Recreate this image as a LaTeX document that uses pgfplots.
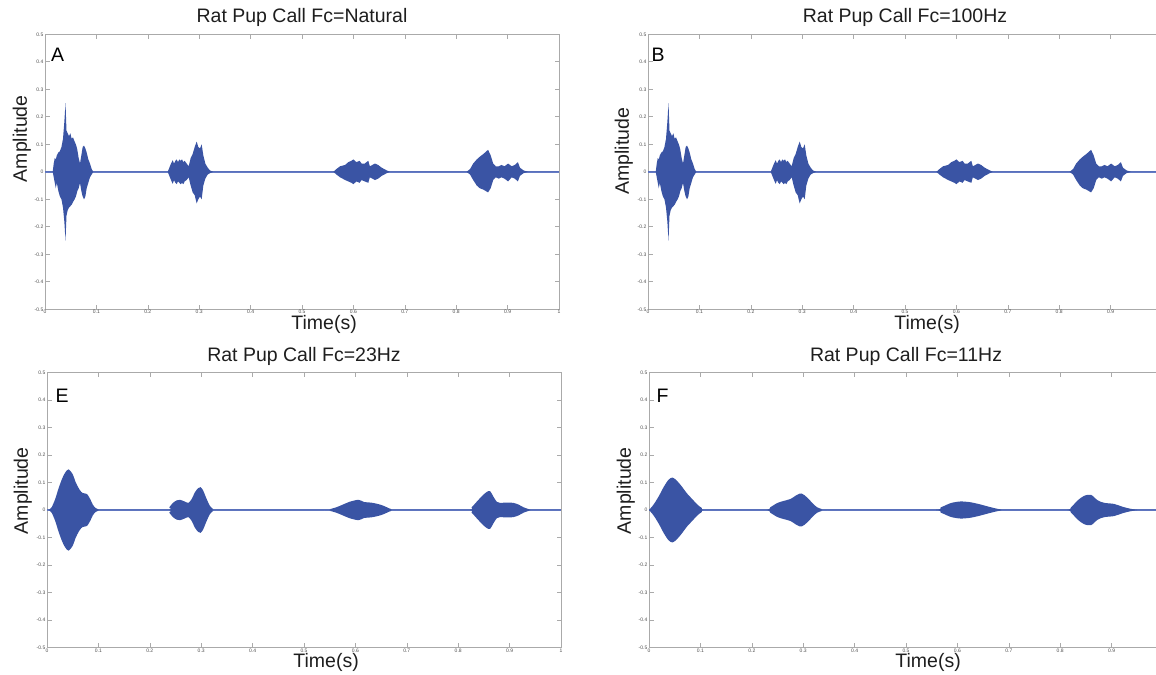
\documentclass[border=0pt]{standalone}
\usepackage{fontspec}
\setmainfont{Liberation Sans}
\usepackage{pgfplots}
\pgfplotsset{compat=1.18}
\usepackage{pgfplotstable}
\definecolor{wave}{RGB}{58,84,164}
\definecolor{wline}{RGB}{100,122,196}
\definecolor{frame}{RGB}{170,170,170}
\definecolor{txt}{RGB}{30,30,30}
\newcommand\bigf{\fontsize{19.5bp}{22bp}\selectfont}

% Natural / 100 Hz envelope (upper u, lower l)
\pgfplotstableread{
t u l
0 0 0
0.015 0 0
0.017 0.03 -0.02
0.019 0.05 -0.04
0.021 0.045 -0.06
0.023 0.06 -0.04
0.026 0.07 -0.07
0.029 0.075 -0.09
0.032 0.09 -0.10
0.035 0.12 -0.13
0.0376 0.18 -0.18
0.0399 0.25 -0.25
0.0418 0.15 -0.16
0.0441 0.14 -0.14
0.0467 0.13 -0.13
0.0493 0.14 -0.125
0.0519 0.12 -0.12
0.0545 0.125 -0.11
0.0577 0.11 -0.10
0.0600 0.10 -0.09
0.0616 0.09 -0.08
0.0629 0.08 -0.07
0.0655 0.05 -0.06
0.0681 0.03 -0.04
0.0707 0.06 -0.07
0.0733 0.09 -0.09
0.0759 0.095 -0.10
0.0785 0.085 -0.09
0.0811 0.07 -0.06
0.0843 0.045 -0.04
0.0875 0.03 -0.02
0.0908 0.01 -0.01
0.0940 0 0
0.2387 0 0
0.2419 0.015 -0.015
0.2451 0.03 -0.03
0.2484 0.042 -0.044
0.2510 0.03 -0.03
0.2536 0.04 -0.04
0.2562 0.045 -0.045
0.2588 0.035 -0.035
0.2613 0.045 -0.04
0.2639 0.04 -0.045
0.2665 0.045 -0.04
0.2691 0.035 -0.045
0.2717 0.04 -0.035
0.2756 0.03 -0.03
0.2795 0.02 -0.02
0.2834 0.05 -0.05
0.2873 0.065 -0.075
0.2912 0.09 -0.085
0.2951 0.11 -0.115
0.2983 0.09 -0.10
0.3016 0.085 -0.09
0.3048 0.10 -0.10
0.3080 0.06 -0.05
0.3119 0.03 -0.025
0.3165 0.015 -0.01
0.3210 0.005 -0.005
0.3275 0 0
0.561 0 0
0.567 0.01 -0.01
0.574 0.02 -0.02
0.584 0.025 -0.03
0.590 0.035 -0.035
0.596 0.04 -0.04
0.600 0.045 -0.045
0.606 0.035 -0.035
0.612 0.04 -0.04
0.616 0.03 -0.03
0.622 0.03 -0.035
0.629 0.04 -0.04
0.632 0.02 -0.02
0.637 0.025 -0.025
0.642 0.03 -0.03
0.648 0.025 -0.025
0.655 0.015 -0.015
0.665 0.005 -0.005
0.671 0 0
0.820 0 0
0.827 0.01 -0.01
0.833 0.03 -0.03
0.840 0.045 -0.05
0.846 0.055 -0.06
0.853 0.065 -0.065
0.862 0.08 -0.075
0.867 0.06 -0.06
0.872 0.03 -0.03
0.877 0.02 -0.02
0.883 0.02 -0.025
0.888 0.025 -0.02
0.894 0.02 -0.025
0.901 0.03 -0.035
0.908 0.02 -0.02
0.914 0.025 -0.025
0.920 0.035 -0.035
0.924 0.015 -0.015
0.931 0.005 -0.005
0.940 0 0
1 0 0
}\dataA

% 23 Hz envelope
\pgfplotstableread{
t u l
0 0 0
0.003 0 0
0.009 0.01 -0.01
0.016 0.04 -0.04
0.022 0.076 -0.076
0.029 0.112 -0.112
0.035 0.135 -0.135
0.042 0.148 -0.148
0.050 0.13 -0.13
0.056 0.10 -0.10
0.063 0.075 -0.075
0.069 0.062 -0.062
0.074 0.06 -0.06
0.078 0.058 -0.058
0.084 0.04 -0.04
0.089 0.02 -0.02
0.094 0.008 -0.008
0.100 0.002 -0.002
0.105 0 0
0.2315 0 0
0.238 0.01 -0.01
0.2445 0.025 -0.025
0.2523 0.035 -0.035
0.2588 0.037 -0.037
0.2665 0.032 -0.032
0.275 0.026 -0.026
0.2815 0.04 -0.04
0.288 0.065 -0.065
0.2944 0.08 -0.08
0.299 0.083 -0.083
0.304 0.07 -0.07
0.3106 0.04 -0.04
0.317 0.015 -0.015
0.3236 0.003 -0.003
0.330 0 0
0.540 0 0
0.550 0.003 -0.003
0.563 0.01 -0.01
0.576 0.02 -0.02
0.589 0.03 -0.03
0.606 0.037 -0.037
0.617 0.029 -0.029
0.630 0.027 -0.027
0.641 0.023 -0.023
0.651 0.018 -0.018
0.661 0.01 -0.01
0.670 0.003 -0.003
0.680 0 0
0.816 0 0
0.826 0.01 -0.01
0.836 0.03 -0.03
0.846 0.05 -0.05
0.855 0.065 -0.065
0.862 0.069 -0.069
0.868 0.05 -0.05
0.875 0.03 -0.03
0.881 0.026 -0.026
0.894 0.027 -0.027
0.907 0.026 -0.026
0.917 0.02 -0.02
0.927 0.01 -0.01
0.936 0.004 -0.004
0.946 0 0
1 0 0
}\dataE

% 11 Hz envelope
\pgfplotstableread{
t u l
0 0 0
0.009 0.02 -0.02
0.019 0.05 -0.05
0.029 0.085 -0.085
0.038 0.11 -0.11
0.046 0.118 -0.118
0.055 0.105 -0.105
0.064 0.085 -0.085
0.074 0.06 -0.06
0.084 0.04 -0.04
0.094 0.02 -0.02
0.103 0.007 -0.007
0.113 0 0
0.223 0 0
0.236 0.01 -0.01
0.249 0.025 -0.025
0.262 0.033 -0.033
0.275 0.04 -0.04
0.288 0.055 -0.055
0.297 0.06 -0.06
0.308 0.045 -0.045
0.318 0.025 -0.025
0.327 0.01 -0.01
0.337 0.003 -0.003
0.347 0 0
0.548 0 0
0.568 0.01 -0.01
0.587 0.025 -0.025
0.606 0.031 -0.031
0.626 0.028 -0.028
0.645 0.02 -0.02
0.665 0.01 -0.01
0.684 0.002 -0.002
0.697 0 0
0.808 0 0
0.821 0.01 -0.01
0.834 0.035 -0.035
0.847 0.052 -0.052
0.860 0.055 -0.055
0.873 0.035 -0.035
0.886 0.026 -0.026
0.905 0.022 -0.022
0.921 0.012 -0.012
0.938 0.004 -0.004
0.957 0 0
1 0 0
}\dataF

\pgfplotsset{
  mat/.style={
    scale only axis, width=514bp, height=275bp, anchor=south west,
    xmin=0, xmax=1, ymin=-0.5, ymax=0.5,
    xtick={0,0.1,0.2,0.3,0.4,0.5,0.6,0.7,0.8,0.9,1},
    xticklabels={0,0.1,0.2,0.3,0.4,0.5,0.6,0.7,0.8,0.9,1},
    ytick={-0.5,-0.4,-0.3,-0.2,-0.1,0,0.1,0.2,0.3,0.4,0.5},
    yticklabels={-0.5,-0.4,-0.3,-0.2,-0.1,0,0.1,0.2,0.3,0.4,0.5},
    tick label style={font=\fontsize{5bp}{6bp}\selectfont, text=gray!60!black},
    xticklabel style={inner sep=1bp},
    yticklabel style={inner sep=1.5bp},
    axis line style={frame, line width=1bp},
    major tick length=4.5bp,
    every tick/.style={frame, line width=0.6bp},
    tick align=inside,
    title style={font=\bigf, text=txt, at={(axis description cs:0.5,1)}, anchor=base, yshift=6bp},
    xlabel style={font=\bigf, text=txt, at={(axis description cs:0.543,0)}, anchor=base, yshift=-20bp},
    ylabel style={font=\bigf, text=txt, anchor=center},
    xlabel={Time(s)}, ylabel={Amplitude},
  }
}

\begin{document}
\begin{tikzpicture}

% A
\begin{axis}[mat, at={(45bp,365.7bp)}, title={Rat Pup Call Fc=Natural},
  ylabel style={at={(axis description cs:-0.045,0.62)}}]
\addplot[wline, line width=1.5bp] coordinates {(0,0) (1,0)};
\addplot[fill=wave, draw=none] table[x=t,y=u]{\dataA} \closedcycle;
\addplot[fill=wave, draw=none] table[x=t,y=l]{\dataA} \closedcycle;
\node[anchor=base west, font=\bigf, text=black] at (rel axis cs:0.005,0.902) {A};
\end{axis}

% B
\begin{axis}[mat, at={(648bp,365.7bp)}, title={Rat Pup Call Fc=100Hz},
  ylabel style={at={(axis description cs:-0.047,0.575)}}]
\addplot[wline, line width=1.5bp] coordinates {(0,0) (1,0)};
\addplot[fill=wave, draw=none] table[x=t,y=u]{\dataA} \closedcycle;
\addplot[fill=wave, draw=none] table[x=t,y=l]{\dataA} \closedcycle;
\node[anchor=base west, font=\bigf, text=black] at (rel axis cs:0.0,0.902) {B};
\end{axis}

% E
\begin{axis}[mat, at={(47bp,27.5bp)}, title={Rat Pup Call Fc=23Hz},
  title style={yshift=-1bp},
  ylabel style={at={(axis description cs:-0.047,0.57)}}]
\addplot[wline, line width=1.5bp] coordinates {(0,0) (1,0)};
\addplot[fill=wave, draw=none, smooth] table[x=t,y=u]{\dataE} \closedcycle;
\addplot[fill=wave, draw=none, smooth] table[x=t,y=l]{\dataE} \closedcycle;
\node[anchor=base west, font=\bigf, text=black] at (rel axis cs:0.01,0.891) {E};
\end{axis}

% F
\begin{axis}[mat, at={(649bp,27.5bp)}, title={Rat Pup Call Fc=11Hz},
  title style={yshift=-1bp},
  ylabel style={at={(axis description cs:-0.045,0.57)}}]
\addplot[wline, line width=1.5bp] coordinates {(0,0) (1,0)};
\addplot[fill=wave, draw=none, smooth] table[x=t,y=u]{\dataF} \closedcycle;
\addplot[fill=wave, draw=none, smooth] table[x=t,y=l]{\dataF} \closedcycle;
\node[anchor=base west, font=\bigf, text=black] at (rel axis cs:0.008,0.891) {F};
\end{axis}

\pgfresetboundingbox
\path[use as bounding box] (0bp,0bp) rectangle (1156bp,675bp);
\end{tikzpicture}
\end{document}
